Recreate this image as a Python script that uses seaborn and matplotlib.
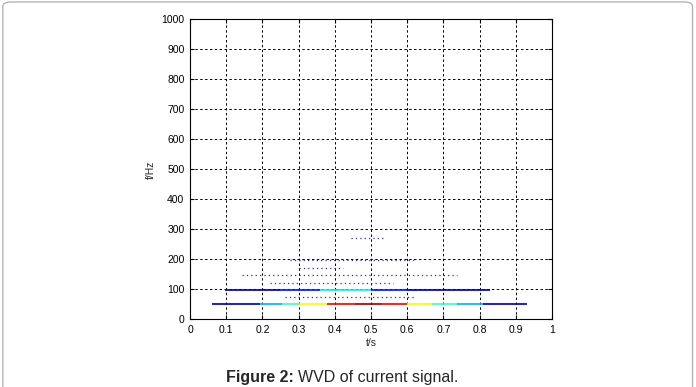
import numpy as np
import pandas as pd
import matplotlib
matplotlib.use("Agg")
import matplotlib.pyplot as plt
import seaborn as sns
from matplotlib.patches import FancyBboxPatch

# ridge lines
# main 50 Hz band: segment edges along t and colour level (jet) of each segment
band50_freq = 50
band50_edges = [0.062, 0.193, 0.254, 0.30, 0.378, 0.456, 0.53, 0.60, 0.67, 0.737, 0.81, 0.93]
band50_level = [0.04, 0.30, 0.42, 0.64, 0.90, 0.97, 0.90, 0.64, 0.42, 0.30, 0.04]

# 100 Hz band
band100_freq = 98
band100_edges = [0.097, 0.25, 0.36, 0.50, 0.60, 0.83]
band100_level = [0.04, 0.15, 0.36, 0.15, 0.04]

# faint cross terms (dotted)
cross_freq = [73, 121, 147, 170, 198, 270]
cross_start = [0.262, 0.221, 0.145, 0.302, 0.276, 0.445]
cross_end = [0.622, 0.562, 0.739, 0.422, 0.628, 0.540]

xticks = np.round(np.arange(0, 1.01, 0.1), 1)
xtick_labels = ["0", "0.1", "0.2", "0.3", "0.4", "0.5", "0.6", "0.7", "0.8", "0.9", "1"]
yticks = np.arange(0, 1001, 100)

sns.set_style("white")
plt.rcParams["font.family"] = ["Liberation Sans", "DejaVu Sans"]

fig = plt.figure(figsize=(6.96, 3.87), dpi=100)
ax = fig.add_axes([0.273, 0.175, 0.52, 0.775])

jet = plt.get_cmap("jet")

# dotted cross terms
for f, a, b in zip(cross_freq, cross_start, cross_end):
    seg = pd.DataFrame({"t": [a, b], "f": [f, f]})
    sns.lineplot(data=seg, x="t", y="f", color="#2a2ab8", lw=0.9,
                 linestyle=(0, (1, 2.5)), ax=ax)


def draw_band(freq, edges, levels, lw):
    for i, lev in enumerate(levels):
        seg = pd.DataFrame({"t": [edges[i], edges[i + 1]], "f": [freq, freq]})
        sns.lineplot(data=seg, x="t", y="f", color=jet(lev), lw=lw, ax=ax,
                     alpha=0.85, solid_capstyle="butt")


draw_band(band100_freq, band100_edges, band100_level, 1.5)
draw_band(band50_freq, band50_edges, band50_level, 1.5)

ax.set_xlim(0, 1)
ax.set_ylim(0, 1000)
ax.set_xticks(xticks)
ax.set_xticklabels(xtick_labels)
ax.set_yticks(yticks)
ax.grid(True, color="black", linestyle=(0, (2.5, 2.5)), lw=0.7)
ax.set_axisbelow(True)
ax.tick_params(direction="in", length=3, labelsize=7.5, colors="black",
               top=True, right=True, bottom=True, left=True, pad=4)
for s in ax.spines.values():
    s.set_color("black")
    s.set_linewidth(0.8)

ax.set_xlabel("t/s", fontsize=7.5, labelpad=2)
ax.set_ylabel("f/Hz", fontsize=7.5, labelpad=4)

# outer frame and caption
frame = FancyBboxPatch((0.004, -0.2), 0.991, 1.195, boxstyle="round,pad=0,rounding_size=0.012",
                       transform=fig.transFigure, fill=False, edgecolor="#b5b5b5", lw=1.0)
fig.patches.append(frame)
fig.text(0.4224, 0.014, "Figure 2:", fontsize=11.5, fontweight="bold", ha="right", va="baseline")
fig.text(0.428, 0.014, "WVD of current signal.", fontsize=11.5, ha="left", va="baseline")

fig.savefig("out.png", dpi=100)
